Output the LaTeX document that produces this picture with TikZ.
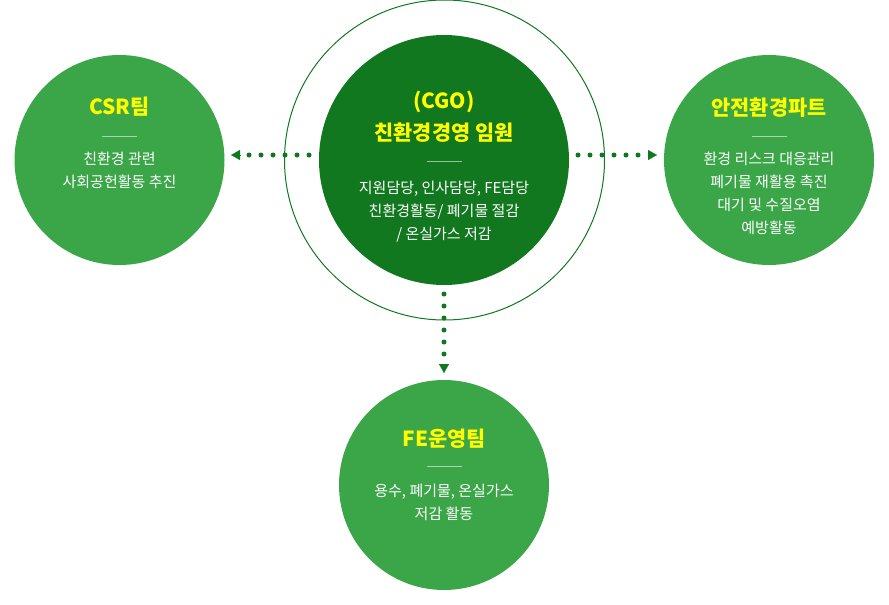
\documentclass[tikz,border=0pt]{standalone}
\usepackage{fontspec}
\setmainfont{Noto Sans CJK KR}
\usetikzlibrary{arrows.meta}
\definecolor{lg}{HTML}{3BA648}
\definecolor{dg}{HTML}{12781F}
\definecolor{ttl}{HTML}{FFFF00}
\begin{document}
\begin{tikzpicture}[x=1pt,y=-1pt,
  team/.style={circle, fill=lg, minimum size=210pt, inner sep=0pt},
  ttlstyle/.style={text=ttl, font=\fontsize{20.8}{24}\selectfont\bfseries, inner sep=0pt},
  body/.style={text=white, font=\fontsize{15}{23}\selectfont, align=center, inner sep=0pt},
  sepline/.style={draw=white, draw opacity=0.55, line width=1pt},
  dotline/.style={draw=dg, line width=5pt, line cap=round, dash pattern=on 0pt off 12pt},
  tipline/.style={draw=dg, fill=dg, line width=0.1pt, -{Triangle[width=10pt,length=9pt]}}
]
\useasboundingbox (0,0) rectangle (889,605);
% circles
\node[draw=dg, line width=1pt, circle, minimum size=320pt, inner sep=0pt] (ring) at (444.5,160) {};
\node[circle, fill=dg, minimum size=250pt, inner sep=0pt] (cgo) at (444,160) {};
\node[team] (csr) at (119.5,160) {};
\node[team] (safe) at (769,160) {};
\node[team] (fe) at (444,485) {};
% CGO text
\node[ttlstyle] (cgoT1) at (444,102) {(CGO)};
\node[ttlstyle] (cgoT2) at (444,133) {친환경경영 임원};
\draw[sepline] (427,161) -- (462,161);
\node[body] (cgoB) at (444,211.5) {지원담당, 인사담당, FE담당\\친환경활동/ 폐기물 절감\\/ 온실가스 저감};
% CSR text
\node[ttlstyle] (csrT) at (119.5,107) {CSR팀};
\draw[sepline] (102,136) -- (137,136);
\node[body] (csrB) at (119.5,170.5) {친환경 관련\\사회공헌활동 추진};
% safe text
\node[ttlstyle] (safeT) at (769,108) {안전환경파트};
\draw[sepline] (751.5,136) -- (786.5,136);
\node[body] (safeB) at (769,193.5) {환경 리스크 대응관리\\폐기물 재활용 촉진\\대기 및 수질오염\\예방활동};
% FE text
\node[ttlstyle] (feT) at (444,439) {FE운영팀};
\draw[sepline] (426.5,466) -- (461.5,466);
\node[body] (feB) at (444,502) {용수, 폐기물, 온실가스\\저감 활동};
% connectors
\coordinate (l1) at (309,155); \coordinate (l2) at (248,155);
\coordinate (lb) at (240,155); \coordinate (lt) at (231,155);
\draw[dotline] (l1) -- (l2);
\draw[tipline] (lb) -- (lt);
\coordinate (r1) at (578,155); \coordinate (r2) at (639,155);
\coordinate (rb) at (648,155); \coordinate (rt) at (657,155);
\draw[dotline] (r1) -- (r2);
\draw[tipline] (rb) -- (rt);
\coordinate (d1) at (444,294); \coordinate (d2) at (444,355);
\coordinate (db) at (444,364); \coordinate (dt) at (444,373);
\draw[dotline] (d1) -- (d2);
\draw[tipline] (db) -- (dt);
\end{tikzpicture}
\end{document}
